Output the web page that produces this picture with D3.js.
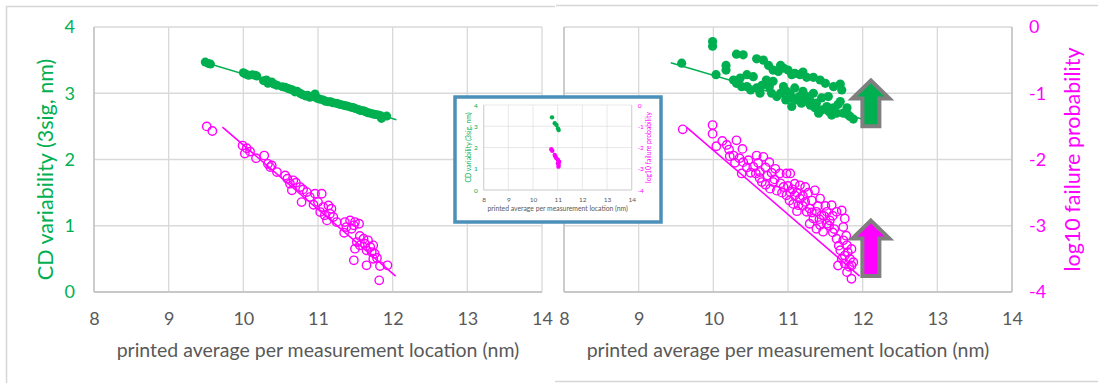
<!DOCTYPE html>
<html><head><meta charset="utf-8">
<script src="https://cdn.jsdelivr.net/npm/d3@7"></script>
<style>body{margin:0;background:#fff}svg{display:block}text{font-family:Lato,"Open Sans",sans-serif}</style>
</head><body>
<svg id="c" width="1098" height="383"></svg>
<script>
// ---------- data ----------
const xTicks = [8, 9, 10, 11, 12, 13, 14];
const yLeftTicks = [0, 1, 2, 3, 4];
const yRightTicks = [0, -1, -2, -3, -4];
const xTitle = "printed average per measurement location (nm)";
const yLeftTitle = "CD variability (3sig, nm)";
const yRightTitle = "log10 failure probability";

// left chart: CD variability (green, filled)
const leftGreen = [[9.49,3.47],[9.53,3.45],[9.56,3.44],[10.0,3.31],[10.03,3.29],[10.07,3.27],[10.12,3.28],[10.16,3.27],[10.18,3.26],
 [10.27,3.19],[10.31,3.2],[10.33,3.15],[10.38,3.17],[10.41,3.14],[10.45,3.12],[10.52,3.1],[10.56,3.09],[10.6,3.07],[10.63,3.06],
 [10.66,3.05],[10.69,3.02],[10.72,3.03],[10.76,3.0],[10.79,2.98],[10.83,2.96],[10.86,2.97],[10.89,2.94],[10.93,2.95],[10.96,2.99],
 [10.98,2.93],[11.0,2.92],[11.03,2.91],[11.07,2.9],[11.1,2.88],[11.14,2.87],[11.17,2.87],[11.2,2.855],[11.24,2.85],[11.27,2.84],
 [11.3,2.83],[11.34,2.82],[11.37,2.81],[11.4,2.805],[11.44,2.79],[11.47,2.785],[11.5,2.77],[11.54,2.755],[11.57,2.74],[11.61,2.735],
 [11.64,2.72],[11.67,2.705],[11.7,2.7],[11.74,2.685],[11.77,2.68],[11.81,2.67],[11.85,2.62],[11.84,2.66],[11.92,2.655]];
const leftGreenTrend = [[9.5,3.46],[12.05,2.60]];
// left chart: second series (magenta, open)
const leftMagenta = [[9.51,2.5],[9.585,2.43],[9.99,2.21],[10.045,2.17],[10.09,2.12],[10.02,2.09],[10.17,2.02],[10.28,2.06],
 [10.33,1.935],[10.38,1.91],[10.36,1.885],[10.45,1.81],[10.56,1.76],[10.59,1.71],[10.67,1.685],[10.625,1.635],[10.705,1.65],[10.65,1.535],
 [10.76,1.584],[10.8,1.549],[10.85,1.508],[10.78,1.357],[10.89,1.433],[10.96,1.483],[11.05,1.483],[10.94,1.317],[11.0,1.357],
 [11.07,1.282],[11.14,1.307],[11.18,1.257],[11.03,1.207],[11.09,1.157],[11.16,1.181],[11.12,1.081],[11.205,1.131],[11.25,1.056],
 [11.36,1.056],[11.43,1.081],[11.495,1.056],[11.55,1.03],[11.38,0.98],[11.45,0.955],[11.35,0.894],[11.48,1.006],
 [11.56,0.845],[11.61,0.804],[11.67,0.78],[11.52,0.754],[11.56,0.704],[11.63,0.729],[11.7,0.679],[11.74,0.704],[11.495,0.654],
 [11.65,0.629],[11.72,0.603],[11.76,0.578],[11.48,0.478],[11.65,0.403],[11.83,0.392],[11.93,0.403],[11.82,0.176],[11.74,0.502],[11.79,0.513]];
const leftMagentaTrend = [[9.72,2.49],[12.04,0.24]];

// right chart: CD variability (green, left axis)
const rightGreen = [[9.576,3.454],[9.99,3.78],[9.99,3.71],[10.036,3.28],[10.17,3.42],[10.17,3.35],[10.31,3.59],[10.4,3.58],
 [10.27,3.2],[10.31,3.15],[10.38,3.1],[10.36,3.23],[10.45,3.28],[10.535,3.25],
 [10.58,3.52],[10.67,3.5],[10.74,3.42],[10.8,3.35],[10.87,3.33],[10.94,3.38],[11.0,3.35],[11.09,3.3],[11.16,3.28],[11.25,3.24],
 [11.34,3.24],[11.43,3.2],[11.61,3.1],[11.7,3.14],[11.72,3.05],
 [10.58,3.08],[10.625,3.0],[10.71,3.2],[10.8,3.18],[10.78,3.0],[10.85,2.95],[10.94,3.1],[10.98,3.03],[11.03,2.98],[11.09,3.08],
 [11.12,2.9],[11.2,3.03],[11.25,2.95],[11.18,2.85],[11.29,2.9],[11.34,3.0],[11.38,2.85],[11.45,2.93],[11.52,2.8],[11.54,2.95],
 [11.61,2.78],[11.67,2.83],[11.74,2.7],[11.79,2.78],[11.83,2.65],[11.875,2.61],[11.7,2.875],[11.05,2.8],[11.41,2.7],[11.585,2.67],
 [10.45,3.1],[10.5,3.05],[10.65,3.12],[10.75,3.1],[10.9,3.0],[10.97,2.9],[11.05,2.93],[11.15,2.95],[11.22,2.88],[11.3,2.82],
 [11.36,2.78],[11.46,2.75],[11.55,2.72],[11.65,2.7],[11.5,3.15],[11.8,2.68],[11.05,3.28],[10.9,3.42],[11.2,3.32]];
const rightGreenTrend = [[9.43,3.46],[11.99,2.61]];
// right chart: log10 failure probability (magenta, right axis)
const rightMagenta = [[9.59,-1.545],[9.99,-1.48],[9.99,-1.61],[10.04,-1.8],[10.18,-1.78],[10.21,-1.85],[10.31,-1.71],[10.27,-1.94],
 [10.39,-1.84],[10.29,-2.05],[10.4,-2.04],[10.38,-2.21],[10.47,-2.01],[10.58,-1.94],[10.67,-1.96],[10.75,-2.04],[10.535,-2.11],
 [10.57,-2.21],[10.65,-2.34],[10.625,-2.19],[10.72,-2.24],[10.8,-2.34],[10.83,-2.14],[10.89,-2.21],[10.98,-2.21],[11.03,-2.21],
 [10.85,-2.47],[10.76,-2.44],[10.94,-2.415],[10.98,-2.54],[11.03,-2.49],[11.09,-2.365],[11.16,-2.39],[11.23,-2.415],[11.09,-2.54],
 [11.16,-2.59],[11.07,-2.67],[11.14,-2.69],[11.23,-2.64],[11.29,-2.74],[11.36,-2.465],[11.43,-2.59],[11.38,-2.79],[11.45,-2.84],
 [11.52,-2.79],[11.585,-2.69],[11.65,-2.79],[11.72,-2.77],[11.76,-2.89],[11.25,-2.79],[11.34,-2.89],[11.29,-2.97],[11.43,-2.99],
 [11.52,-2.97],[11.47,-3.09],[11.38,-3.045],[11.56,-2.92],[11.65,-3.195],[11.74,-3.22],[11.79,-3.295],[11.85,-3.35],[11.7,-3.37],
 [11.76,-3.45],[11.83,-3.5],[11.67,-3.6],[11.76,-3.57],[11.85,-3.6],[11.79,-3.7],[11.85,-3.8],[11.875,-3.55],[11.74,-3.02],
 [10.12,-1.72],[10.22,-1.95],[10.35,-1.98],[10.45,-2.12],[10.5,-2.2],[10.6,-2.05],[10.62,-2.28],[10.7,-2.12],[10.7,-2.38],
 [10.78,-2.2],[10.82,-2.3],[10.9,-2.36],[10.92,-2.5],[11.0,-2.4],[11.02,-2.62],[11.06,-2.45],[11.12,-2.5],[11.12,-2.78],
 [11.2,-2.55],[11.2,-2.7],[11.27,-2.5],[11.32,-2.62],[11.32,-2.8],[11.4,-2.7],[11.42,-2.9],[11.5,-2.7],[11.48,-2.85],
 [11.55,-3.0],[11.6,-2.85],[11.62,-3.05],[11.68,-3.3],[11.72,-3.5],[11.8,-3.4],[11.82,-3.62],[11.78,-3.15],[11.6,-3.1]];
const rightMagentaTrend = [[9.64,-1.51],[11.96,-3.76]];

// inset chart
const insetGreen = [[10.77,3.42],[10.88,3.14],[10.95,3.06],[11.01,2.9],[11.04,2.82]];
const insetMagenta = [[10.74,-2.08],[10.78,-2.15],[10.88,-2.35],[10.91,-2.43],[10.95,-2.51],[11.01,-2.59],[11.06,-2.67],[11.01,-2.74],[11.04,-2.82],[11.03,-2.9]];

// arrows (right chart, in data units: x, top y, bottom y; left-axis units)
const arrowX = [12.11, 12.11];
const arrowTop = [3.23, 1.116];
const arrowBottom = [2.47, 0.21];
const arrowFill = ["#00b050", "#ff00ff"];

// ---------- styling ----------
const GREEN = "#00b050", MAG = "#ff00ff", GRAY = "#595959", GRID = "#d9d9d9", AXIS = "#bfbfbf";
const svg = d3.select("#c");
const fmt = d => String(d);

// panel frames
svg.append("line").attr("x1",556).attr("x2",1098).attr("y1",5.5).attr("y2",5.5).attr("stroke","#d6d6d6").attr("stroke-width",1.5);
svg.append("line").attr("x1",555).attr("x2",1098).attr("y1",381.5).attr("y2",381.5).attr("stroke","#d6d6d6").attr("stroke-width",1.5);

function drawChart(o) {
  const g = svg.append("g");
  const x = d3.scaleLinear().domain([8,14]).range(o.xr);
  const y = d3.scaleLinear().domain([0,4]).range(o.yr);
  const y2 = d3.scaleLinear().domain([-4,0]).range(o.yr);
  g.selectAll(null).data(xTicks).enter().append("line")
    .attr("x1",d=>x(d)).attr("x2",d=>x(d)).attr("y1",o.yr[1]).attr("y2",o.yr[0])
    .attr("stroke",GRID).attr("stroke-width",o.gw);
  g.selectAll(null).data(yLeftTicks).enter().append("line")
    .attr("x1",o.xr[0]).attr("x2",o.xr[1]).attr("y1",d=>y(d)).attr("y2",d=>y(d))
    .attr("stroke",GRID).attr("stroke-width",o.gw);
  g.append("line").attr("x1",o.xr[0]).attr("x2",o.xr[0]).attr("y1",o.yr[1]).attr("y2",o.yr[0]).attr("stroke",AXIS).attr("stroke-width",o.gw);
  g.append("line").attr("x1",o.xr[0]).attr("x2",o.xr[1]).attr("y1",o.yr[0]).attr("y2",o.yr[0]).attr("stroke",AXIS).attr("stroke-width",o.gw);
  if (o.rightAxis) g.append("line").attr("x1",o.xr[1]).attr("x2",o.xr[1]).attr("y1",o.yr[1]).attr("y2",o.yr[0]).attr("stroke",AXIS).attr("stroke-width",o.gw);
  const xa = g.append("g").attr("transform",`translate(0,${o.yr[0]})`)
    .call(d3.axisBottom(x).tickValues(xTicks).tickSize(0).tickPadding(o.xpad).tickFormat(fmt));
  xa.select(".domain").remove();
  xa.selectAll("text").attr("fill",GRAY).style("font-size",o.fs+"px").style("font-family","Lato");
  if (o.leftTicks) {
    const ya = g.append("g").attr("transform",`translate(${o.xr[0]},0)`)
      .call(d3.axisLeft(y).tickValues(yLeftTicks).tickSize(0).tickPadding(o.ypad).tickFormat(fmt));
    ya.select(".domain").remove();
    ya.selectAll("text").attr("fill",GREEN).style("font-size",o.fs+"px").style("font-family","Lato");
  }
  if (o.rightTicks) {
    const ya2 = g.append("g").attr("transform",`translate(${o.xr[1]},0)`)
      .call(d3.axisRight(y2).tickValues(yRightTicks).tickSize(0).tickPadding(o.ypad2).tickFormat(fmt));
    ya2.select(".domain").remove();
    ya2.selectAll("text").attr("fill",MAG).style("font-size",o.fs+"px").style("font-family","Lato");
  }
  g.append("text").attr("x",(o.xr[0]+o.xr[1])/2).attr("y",o.xtY).attr("text-anchor","middle")
    .attr("fill",GRAY).style("font-size",o.tfs+"px").text(xTitle);
  const mid = (o.yr[0]+o.yr[1])/2;
  if (o.ylX) g.append("text").attr("transform",`translate(${o.ylX},${mid + (o.ylOff||0)})rotate(-90)`)
    .attr("text-anchor","middle").attr("dy","0.35em").attr("fill",GREEN).style("font-size",o.yfs+"px").text(yLeftTitle);
  if (o.yrX) g.append("text").attr("transform",`translate(${o.yrX},${mid})rotate(-90)`)
    .attr("text-anchor","middle").attr("dy","0.35em").attr("fill",MAG).style("font-size",o.yfs+"px").text(yRightTitle);
  return {g,x,y,y2};
}

function trend(c, data, yscale, color, w) {
  c.g.append("path").datum(data).attr("fill","none").attr("stroke",color).attr("stroke-width",w)
    .attr("d", d3.line().x(d=>c.x(d[0])).y(d=>yscale(d[1])));
}
function filled(c, data, yscale, color, r) {
  c.g.selectAll(null).data(data).enter().append("circle")
    .attr("cx",d=>c.x(d[0])).attr("cy",d=>yscale(d[1])).attr("r",r).attr("fill",color);
}
function open(c, data, yscale, color, r, w) {
  c.g.selectAll(null).data(data).enter().append("circle")
    .attr("cx",d=>c.x(d[0])).attr("cy",d=>yscale(d[1])).attr("r",r).attr("fill","none").attr("stroke",color).attr("stroke-width",w);
}

// ---------- right chart ----------
const R = drawChart({xr:[564,1012], yr:[292,27], gw:1.3, fs:18, tfs:19.5, yfs:21.5, xpad:20, ypad2:17,
  xtY:357, rightTicks:true, rightAxis:true, yrX:1072});
trend(R, rightGreenTrend, R.y, GREEN, 1.6);
filled(R, rightGreen, R.y, GREEN, 4.6);
trend(R, rightMagentaTrend, R.y2, MAG, 1.6);
open(R, rightMagenta, R.y2, MAG, 4.2, 1.4);
arrowX.forEach((ax,i)=>{
  const cx = R.x(ax), top = R.y(arrowTop[i]) + 2.5, bot = R.y(arrowBottom[i]) - 2;
  const hw = 18.5, sw = 8.5, hh = 18;
  const pts = [[cx,top],[cx+hw,top+hh],[cx+sw,top+hh],[cx+sw,bot],[cx-sw,bot],[cx-sw,top+hh],[cx-hw,top+hh]];
  R.g.append("polygon").attr("points",pts.map(p=>p.join(",")).join(" "))
    .attr("fill",arrowFill[i]).attr("stroke","#7f7f7f").attr("stroke-width",4).attr("stroke-linejoin","miter");
});

// ---------- left chart ----------
svg.append("rect").attr("x",0).attr("y",0).attr("width",555).attr("height",383).attr("fill","#fff");
svg.append("line").attr("x1",6).attr("x2",555).attr("y1",6.5).attr("y2",6.5).attr("stroke","#d6d6d6").attr("stroke-width",1.5);
svg.append("line").attr("x1",6.5).attr("x2",6.5).attr("y1",6).attr("y2",383).attr("stroke","#d6d6d6").attr("stroke-width",1.5);
const L = drawChart({xr:[94,542], yr:[292,27], gw:1.3, fs:18, tfs:19.5, yfs:21.5, xpad:20, ypad:19,
  xtY:357, leftTicks:true, ylX:45, ylOff:10});
trend(L, leftGreenTrend, L.y, GREEN, 1.6);
filled(L, leftGreen, L.y, GREEN, 4.5);
trend(L, leftMagentaTrend, L.y, MAG, 1.6);
open(L, leftMagenta, L.y, MAG, 4.2, 1.4);

// ---------- inset ----------
svg.append("rect").attr("x",455).attr("y",97).attr("width",206).attr("height",125).attr("fill","#fff")
  .attr("stroke","#4a90b9").attr("stroke-width",3.5);
const I = drawChart({xr:[483.7,631.7], yr:[190,105], gw:0.6, fs:6.5, tfs:6.8, yfs:6.8, xpad:7, ypad:6, ypad2:6,
  xtY:211, leftTicks:true, rightTicks:true, rightAxis:true, ylX:469, yrX:649});
filled(I, insetGreen, I.y, GREEN, 2.2);
filled(I, insetMagenta, I.y2, MAG, 2.2);
</script>
</body></html>
